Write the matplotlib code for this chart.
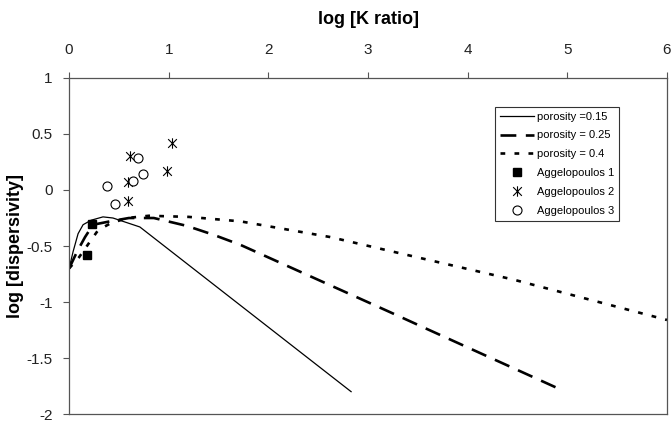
import matplotlib
matplotlib.use("Agg")
import matplotlib.pyplot as plt
from matplotlib.path import Path

plt.rcParams['font.family'] = ['Liberation Sans', 'DejaVu Sans']

# model curves: log K ratio vs log dispersivity
x_015 = [0.0, 0.04, 0.09, 0.14, 0.22, 0.34, 0.44, 0.71, 2.83]
y_015 = [-0.70, -0.55, -0.39, -0.31, -0.27, -0.24, -0.25, -0.33, -1.80]

x_025 = [0.0, 0.08, 0.16, 0.24, 0.41, 0.60, 0.85, 1.18, 1.45, 1.72, 2.17, 2.72, 3.22, 3.59, 4.93]
y_025 = [-0.70, -0.55, -0.42, -0.31, -0.28, -0.25, -0.25, -0.32, -0.40, -0.49, -0.67, -0.89, -1.09, -1.24, -1.78]

x_04 = [0.0, 0.1, 0.21, 0.29, 0.41, 0.58, 0.80, 1.20, 1.72, 2.62, 3.49, 4.46, 6.0]
y_04 = [-0.70, -0.60, -0.46, -0.36, -0.30, -0.25, -0.23, -0.24, -0.28, -0.42, -0.60, -0.80, -1.16]

# field data
agg1_x = [0.23, 0.18]
agg1_y = [-0.30, -0.58]

agg2_x = [1.03, 0.61, 0.98, 0.595, 0.595]
agg2_y = [0.42, 0.30, 0.17, 0.07, -0.095]

agg3_x = [0.695, 0.74, 0.38, 0.645, 0.46]
agg3_y = [0.29, 0.14, 0.035, 0.08, -0.125]

# x with a vertical bar, like the spreadsheet "star" marker
star = Path([(-1, -1), (1, 1), (-1, 1), (1, -1), (0, -1.2), (0, 1.2)],
            [Path.MOVETO, Path.LINETO, Path.MOVETO, Path.LINETO, Path.MOVETO, Path.LINETO])

fig = plt.figure(figsize=(6.71, 4.26), dpi=100)
ax = fig.add_axes([0.103, 0.028, 0.891, 0.789])

ax.plot(x_015, y_015, color='black', lw=0.9, label='porosity =0.15')
ax.plot(x_025, y_025, color='black', lw=1.9, linestyle=(0, (6.0, 3.6)), label='porosity = 0.25')
ax.plot(x_04, y_04, color='black', lw=1.9, linestyle=(0, (1.8, 3.5)), label='porosity = 0.4')
ax.plot(agg1_x, agg1_y, linestyle='none', marker='s', ms=6.3, color='black', label='Aggelopoulos 1')
ax.plot(agg2_x, agg2_y, linestyle='none', marker=star, ms=7.5, mew=0.8, color='black',
        mfc='none', label='Aggelopoulos 2')
ax.plot(agg3_x, agg3_y, linestyle='none', marker='o', ms=6.5, mew=0.8, mec='black',
        mfc='white', label='Aggelopoulos 3')

ax.set_xlim(0, 6)
ax.set_ylim(-2, 1)
ax.set_xticks(range(0, 7))
ax.set_yticks([-2, -1.5, -1, -0.5, 0, 0.5, 1])
ax.set_yticklabels(['-2', '-1.5', '-1', '-0.5', '0', '0.5', '1'])

ax.xaxis.tick_top()
ax.xaxis.set_label_position('top')
ax.tick_params(axis='both', direction='out', length=4, width=0.8, color='#555555',
               labelsize=11, labelcolor='#222222')
ax.tick_params(axis='x', pad=11)
ax.tick_params(axis='y', pad=8)
for s in ax.spines.values():
    s.set_color('#555555')
    s.set_linewidth(0.9)

ax.set_xlabel('log [K ratio]', fontsize=13, fontweight='bold', labelpad=14)
ax.set_ylabel('log [dispersivity]', fontsize=13, fontweight='bold', labelpad=2)

leg = ax.legend(loc='upper right', bbox_to_anchor=(0.92, 0.915), fontsize=8,
                frameon=True, fancybox=False, edgecolor='black', handlelength=3.0,
                handletextpad=0.3, labelspacing=0.8, borderpad=0.45, borderaxespad=0)
leg.get_frame().set_linewidth(0.8)

fig.savefig('out.png', dpi=100)
